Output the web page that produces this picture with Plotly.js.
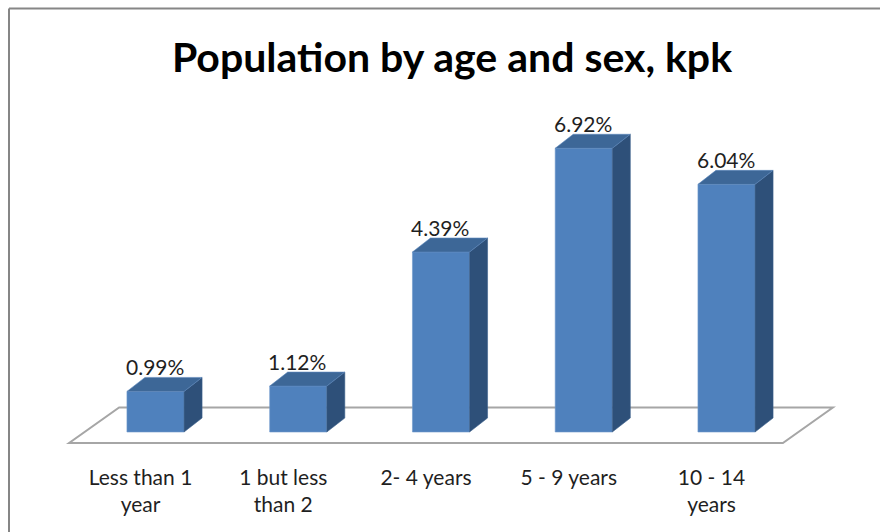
<!DOCTYPE html>
<html>
<head>
<meta charset="utf-8">
<script src="https://cdn.plot.ly/plotly-3.0.1.min.js"></script>
<style>html,body{margin:0;padding:0;background:#fff;}#chart{width:880px;height:532px;}</style>
</head>
<body>
<div id="chart"></div>
<script>
// ---- data ----
const categories = ['Less than 1<br>year', '1 but less<br>than 2', '2- 4 years', '5 - 9 years', '10 - 14<br>years'];
const values = [0.99, 1.12, 4.39, 6.92, 6.04];
const valueLabels = values.map(v => v.toFixed(2) + '%');
const chartTitle = 'Population by age and sex, kpk';

// ---- geometry / style ----
const W = 880, H = 532, MB = 72, plotH = H - MB;
const SX = 142.75, SY = 41;        // px per category / px per percent
const X0PX = 155.5, Y0PX = 432;    // pixel of category 0 / value 0
const BW = 0.4;                     // bar width (category units)
const DX = 18 / SX, DY = 14 / SY;   // bar depth
const xRange = [(0 - X0PX) / SX, (W - X0PX) / SX];
const yRange = [(Y0PX - plotH) / SY, Y0PX / SY];
const FRONT = '#4F81BD', TOP = '#3D6797', SIDE = '#2E5079';
const FONT = 'Lato, "Open Sans", sans-serif';
const LABEL_SHIFT = -15 / SX;       // category labels sit on the floor's front edge

const idx = categories.map((c, i) => i);
const traces = [];

// side and top faces
idx.forEach(i => {
  const v = values[i], r = i + BW / 2;
  traces.push({
    type: 'scatter', mode: 'lines', x: [r, r + DX, r + DX, r, r], y: [0, DY, v + DY, v, 0],
    fill: 'toself', fillcolor: SIDE, line: {color: '#3A5F8C', width: 0.6},
    hoverinfo: 'skip', showlegend: false
  });
  const l = i - BW / 2;
  traces.push({
    type: 'scatter', mode: 'lines', x: [l, l + DX, r + DX, r, l], y: [v, v + DY, v + DY, v, v],
    fill: 'toself', fillcolor: TOP, line: {color: '#5A86BC', width: 0.6},
    hoverinfo: 'skip', showlegend: false
  });
});

// front faces
traces.push({
  type: 'bar', x: idx, y: values, width: BW,
  marker: {color: FRONT, line: {color: '#6F98CB', width: 0.6}},
  hoverinfo: 'skip', showlegend: false
});

// floor (computed from category extent)
const xl = -0.5, xr = categories.length - 0.5;
const fF = {dx: -15 / SX, dy: -11 / SY}, fB = {dx: 35 / SX, dy: 24.5 / SY};
const floorPath = 'M' + (xl + fF.dx) + ',' + fF.dy +
  ' L' + (xr + fF.dx) + ',' + fF.dy +
  ' L' + (xr + fB.dx) + ',' + fB.dy +
  ' L' + (xl + fB.dx) + ',' + fB.dy + ' Z';

const pyTop = (H - MB - 8.5) / plotH;   // paper y of top border
const pyBot = (H - MB - H) / plotH;

const layout = {
  width: W, height: H,
  margin: {l: 0, r: 0, t: 0, b: MB, pad: 0},
  paper_bgcolor: '#fff', plot_bgcolor: 'rgba(0,0,0,0)',
  title: {text: chartTitle, font: {family: FONT, size: 41, color: '#000', weight: 'bold'},
          x: 452 / W, xanchor: 'center', y: 1 - 58 / H, yanchor: 'middle', xref: 'container', yref: 'container'},
  xaxis: {range: xRange, tickvals: idx.map(i => i + LABEL_SHIFT), ticktext: categories, showgrid: false, zeroline: false,
          showline: false, ticks: '', tickfont: {family: FONT, size: 21, color: '#1f1f1f'},
          ticklabelstandoff: 3, fixedrange: true},
  yaxis: {range: yRange, visible: false, fixedrange: true},
  shapes: [
    {type: 'path', path: floorPath, xref: 'x', yref: 'y', layer: 'below',
     line: {color: '#A6A6A6', width: 2}, fillcolor: '#fff'},
    {type: 'line', xref: 'paper', yref: 'paper', x0: 9 / W, x1: 1, y0: pyTop, y1: pyTop,
     line: {color: '#868686', width: 2}},
    {type: 'line', xref: 'paper', yref: 'paper', x0: 9 / W, x1: 9 / W, y0: pyTop, y1: pyBot,
     line: {color: '#868686', width: 2}}
  ],
  annotations: idx.map(i => ({
    x: i, y: values[i] + DY, xref: 'x', yref: 'y', text: valueLabels[i], showarrow: false,
    yanchor: 'middle', xanchor: 'center', yshift: 11, xshift: -1,
    font: {family: FONT, size: 21, color: '#1f1f1f'}
  })),
  bargap: 0
};

Plotly.newPlot('chart', traces, layout, {displayModeBar: false, staticPlot: true});
</script>
</body>
</html>
